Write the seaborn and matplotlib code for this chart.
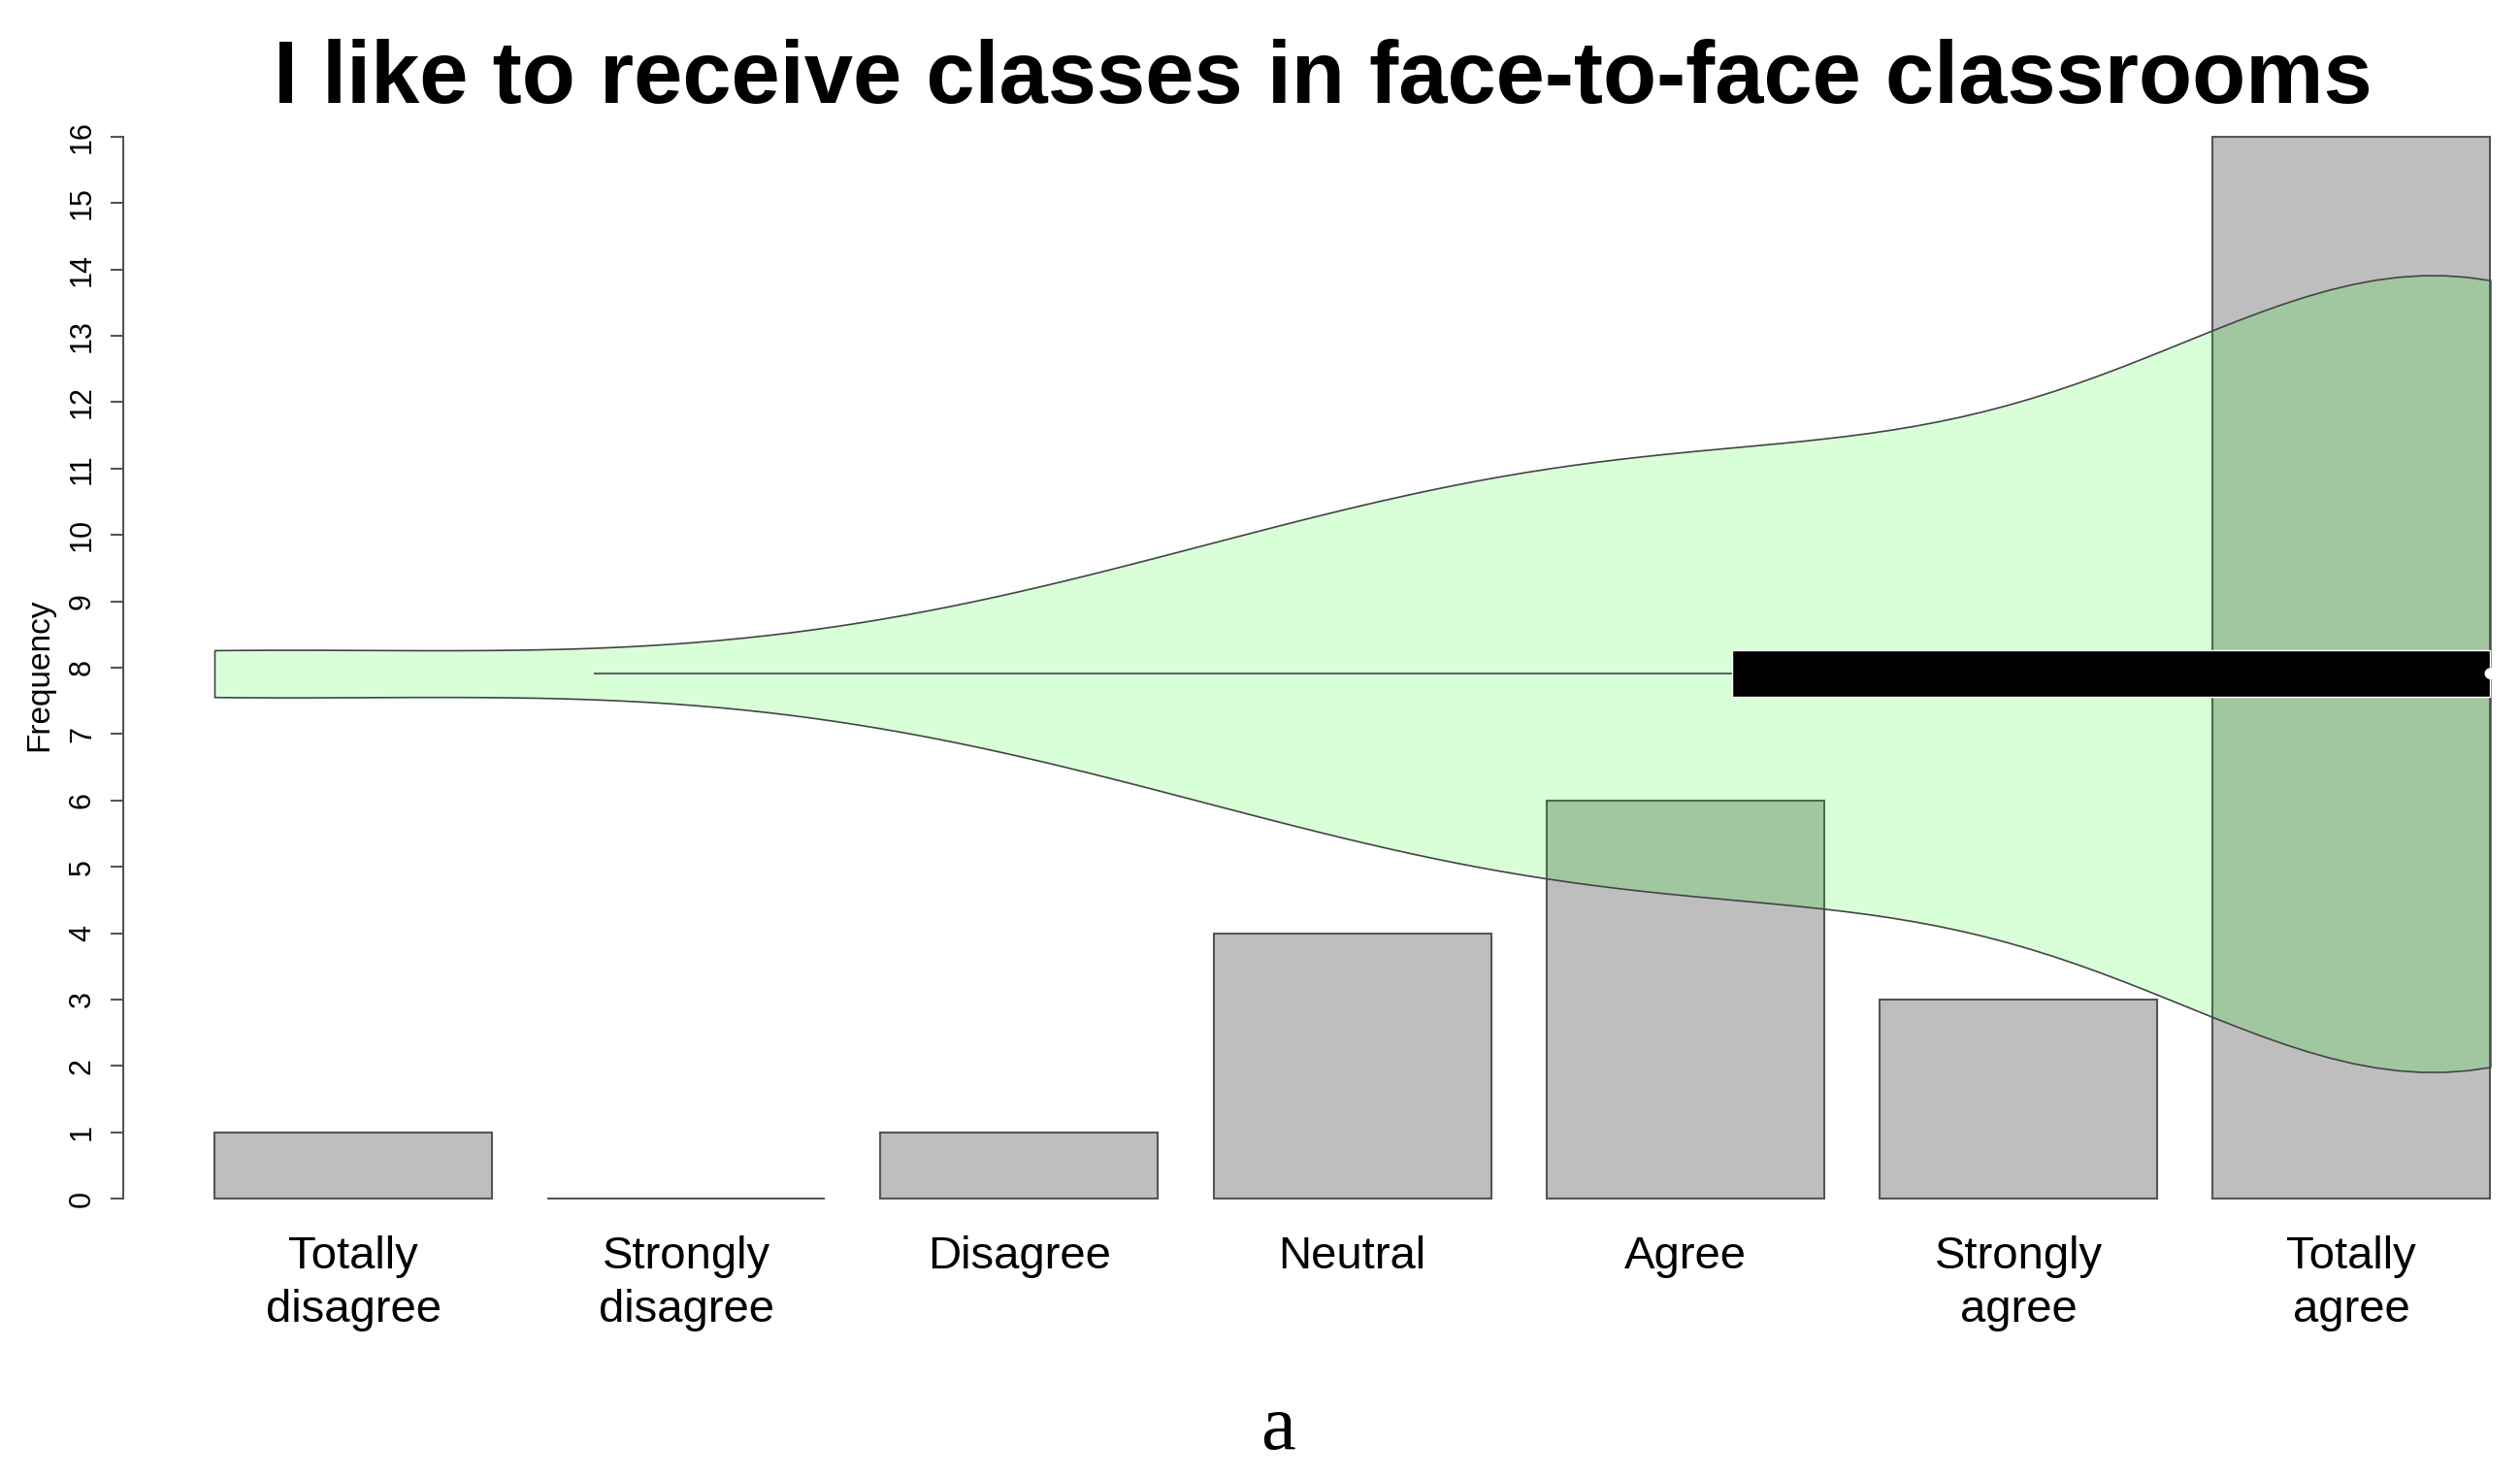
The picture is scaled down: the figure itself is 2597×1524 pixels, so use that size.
import numpy as np
import matplotlib
matplotlib.use("Agg")
import matplotlib.pyplot as plt
import seaborn as sns

# answers on a 7 point scale, 1 = totally disagree ... 7 = totally agree
categories = ["Totally\ndisagree", "Strongly\ndisagree", "Disagree", "Neutral",
              "Agree", "Strongly\nagree", "Totally\nagree"]
levels = [1, 2, 3, 4, 5, 6, 7]
counts = [1, 0, 1, 4, 6, 3, 16]
yticks = list(range(0, 17))

title = "I like to receive classes in face-to-face classrooms"

sns.set_theme(style="white")
plt.rcParams["font.family"] = ["Liberation Sans", "DejaVu Sans"]
plt.rcParams["text.color"] = "black"
plt.rcParams["xtick.color"] = "black"
plt.rcParams["ytick.color"] = "black"

fig = plt.figure(figsize=(25.97, 15.24), dpi=100)
ax = fig.add_axes([0.0489, 0.1608, 0.9511, 0.7756])

bar_w = 1 / 1.2
sns.barplot(x=categories, y=counts, color="#bebebe", saturation=1, width=bar_w,
            edgecolor="#555555", linewidth=1.5, errorbar=None, ax=ax)

# spread the answers along the bar axis: value 1 at the left edge of the
# first bar, value 7 at the right edge of the last bar
answers = np.repeat(levels, counts).astype(float)
left, right = -bar_w / 2, len(categories) - 1 + bar_w / 2
pos = left + (answers - levels[0]) / (levels[-1] - levels[0]) * (right - left)

mid = 7.91
sns.violinplot(x=pos, y=np.full(len(pos), mid), orient="h", native_scale=True,
               width=12, cut=0, inner=None, bw_adjust=1.06, color="#00ff00",
               saturation=1, linecolor="#444444", linewidth=1.2, ax=ax)
for coll in ax.collections:
    coll.set_facecolor((0, 1, 0, 0.15))
    coll.set_zorder(3)

# box part drawn the way vioplot does it
q1, med, q3 = np.percentile(pos, [25, 50, 75])
iqr = q3 - q1
lo = max(q1 - 1.5 * iqr, pos.min())
hi = min(q3 + 1.5 * iqr, pos.max())
ax.hlines(mid, lo, hi, color="#444444", lw=1.2, zorder=4)
ax.barh(mid, q3 - q1, left=q1, height=0.7, color="black", zorder=5)
ax.scatter([med], [mid], s=70, color="white", edgecolors="none", zorder=6, clip_on=False)

ax.set_xlim(-0.6906, 6.506)
ax.set_ylim(-0.64, 16.64)
ax.set_yticks(yticks)
ax.set_xlabel("")
ax.set_ylabel("")
ax.tick_params(axis="y", labelrotation=90, length=9.5, width=1.5, color="#555555",
               labelcolor="black", labelsize=22, pad=10, left=True)
for lab in ax.get_yticklabels():
    lab.set_va("center")
ax.tick_params(axis="x", length=0, labelsize=34, labelcolor="black", pad=-4)
for lab in ax.get_xticklabels():
    lab.set_linespacing(1.3)
for s in ["top", "right", "bottom"]:
    ax.spines[s].set_visible(False)
ax.spines["left"].set_bounds(0, 16)
ax.spines["left"].set_color("#555555")
ax.spines["left"].set_linewidth(1.5)

fig.text(41 / 2597, 0.544, "Frequency", rotation=90, ha="center", va="center", fontsize=24)
fig.text(0.5248, 0.9304, title, ha="center", va="baseline", fontsize=65, fontweight="bold")
fig.text(1317 / 2597, 0.0203, "a", ha="center", va="baseline", fontsize=58,
         family=["Liberation Serif", "DejaVu Serif"])

fig.savefig("out.png", dpi=100)
